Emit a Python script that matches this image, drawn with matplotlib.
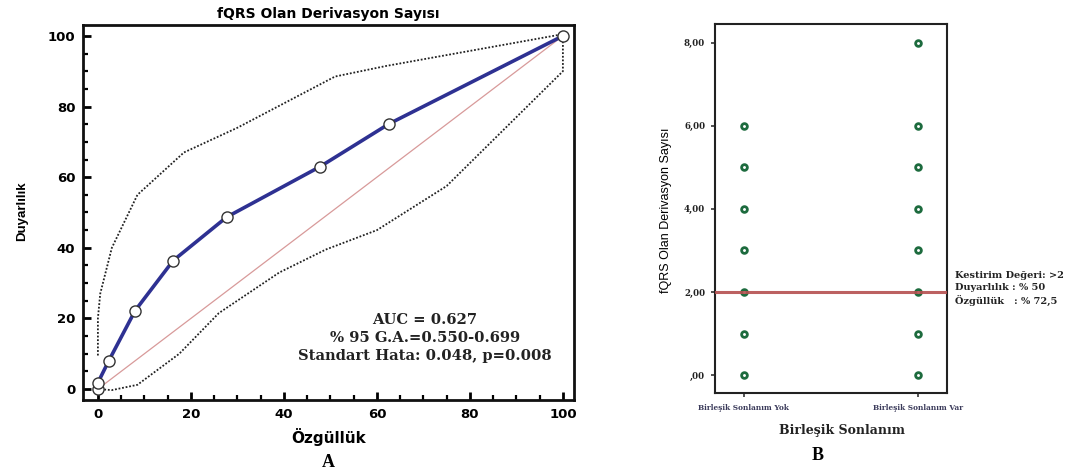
import matplotlib
matplotlib.use("Agg")
import matplotlib.pyplot as plt
from matplotlib.ticker import MultipleLocator, FixedLocator

# ROC egrisi (A paneli)
roc_x = [0, 0, 2.3, 8.0, 16.2, 27.7, 47.8, 62.6, 100]
roc_y = [0, 1.8, 7.9, 22.2, 36.4, 48.7, 63.0, 75.1, 100]

# %95 guven araligi sinirlari
ci_ust_x = [0, 0, 0.5, 3.0, 8.5, 18.5, 30.0, 51.0, 62.0, 100, 100]
ci_ust_y = [9.5, 20.0, 27.0, 40.0, 55.0, 67.0, 74.0, 88.5, 91.5, 100.5, 100]
ci_alt_x = [100, 100, 75.0, 60.0, 49.0, 39.0, 26.0, 17.5, 8.5, 3.0, 0]
ci_alt_y = [100, 90.0, 57.5, 45.0, 39.5, 33.0, 21.5, 10.0, 1.2, -0.3, 0]

auc_satirlari = ["AUC = 0.627", "% 95 G.A.=0.550-0.699",
                 "Standart Hata: 0.048, p=0.008"]

# B paneli: gruplara gore fQRS olan derivasyon sayilari
gruplar = ["Birleşik Sonlanım Yok", "Birleşik Sonlanım Var"]
yok_degerler = [0, 1, 2, 3, 4, 5, 6]
var_degerler = [0, 1, 2, 3, 4, 5, 6, 8]
kestirim = 2
y_etiketleri = [",00", "2,00", "4,00", "6,00", "8,00"]
kestirim_metni = ["Kestirim Değeri: >2", "Duyarlılık : % 50", "Özgüllük   : % 72,5"]

sans_b = "DejaVu Sans"
serif = "DejaVu Serif"

fig = plt.figure(figsize=(10.74, 4.75), dpi=100)

# ---------------- A ----------------
ax = fig.add_axes([0.0773, 0.1579, 0.4572, 0.7895])
ax.plot([0, 100], [0, 100], color="#d89a9a", lw=0.9, zorder=1)
ax.plot(ci_ust_x + ci_alt_x, ci_ust_y + ci_alt_y, color="#222222", lw=1.3,
        linestyle=(0, (1, 1)), zorder=2)
ax.plot(roc_x, roc_y, color="#2e3192", lw=2.6, zorder=3,
        marker="o", ms=8, mfc="white", mec="#333333", mew=1.0)

ax.set_xlim(-3.2, 102.4)
ax.set_ylim(-3.1, 103.1)
ax.xaxis.set_major_locator(MultipleLocator(20))
ax.yaxis.set_major_locator(MultipleLocator(20))
ax.xaxis.set_minor_locator(MultipleLocator(5))
ax.yaxis.set_minor_locator(MultipleLocator(5))
ax.tick_params(which="major", direction="in", length=6, width=2, pad=5.5,
               labelsize=9.5, top=False, right=False)
ax.tick_params(which="minor", direction="in", length=3.5, width=1.6,
               top=False, right=False)
for lab in ax.get_xticklabels() + ax.get_yticklabels():
    lab.set_fontfamily(sans_b)
    lab.set_fontweight("bold")
for sp in ax.spines.values():
    sp.set_linewidth(2)
    sp.set_color("#111111")

ax.set_xlabel("Özgüllük", fontfamily=sans_b, fontweight="bold", fontsize=11,
              labelpad=5)
ax.set_ylabel("Duyarlılık", fontfamily="Liberation Sans", fontweight="bold",
              fontsize=9.5)
ax.yaxis.set_label_coords(-0.112, 0.504)
ax.set_title("fQRS Olan Derivasyon Sayısı", fontfamily=sans_b,
             fontweight="bold", fontsize=10, pad=5)

for i, satir in enumerate(auc_satirlari):
    ax.text(70.3, 19.5 - i * 5.0, satir, ha="center", va="center",
            fontfamily=serif, fontweight="bold", fontsize=10.6, color="#222222")

fig.text(0.3054, 0.027, "A", ha="center", va="center", fontfamily="Liberation Serif",
         fontweight="bold", fontsize=13)

# ---------------- B ----------------
bx = fig.add_axes([0.6657, 0.1726, 0.2160, 0.7768])
bx.axhline(kestirim, color="#b55050", lw=2.2, alpha=0.9, zorder=3)
bx.scatter([0] * len(yok_degerler), yok_degerler, s=17, marker="o",
           facecolors="white", edgecolors="#1d6b3e", linewidths=2.0, zorder=2)
bx.scatter([1] * len(var_degerler), var_degerler, s=17, marker="o",
           facecolors="white", edgecolors="#1d6b3e", linewidths=2.0, zorder=2)

bx.set_xlim(-0.164, 1.168)
bx.set_ylim(-0.43, 8.45)
bx.set_xticks([0, 1])
bx.set_xticklabels(gruplar, fontfamily=serif, fontweight="bold", fontsize=5.3,
                   color="#3a3a5a")
bx.yaxis.set_major_locator(FixedLocator([0, 2, 4, 6, 8]))
bx.set_yticklabels(y_etiketleri, fontfamily=serif, fontweight="bold",
                   fontsize=6.2, color="#222222")
bx.tick_params(axis="both", direction="out", length=3, width=1.2,
               color="#333333")
bx.tick_params(axis="y", pad=4)
bx.tick_params(axis="x", pad=5)
for sp in bx.spines.values():
    sp.set_linewidth(1.5)
    sp.set_color("#222222")

bx.set_xlabel("Birleşik Sonlanım", fontfamily=serif, fontweight="bold",
              fontsize=9, color="#222222")
bx.xaxis.set_label_coords(0.547, -0.085)
bx.set_ylabel("fQRS Olan Derivasyon Sayısı", fontfamily="Liberation Sans",
              fontsize=9)
bx.yaxis.set_label_coords(-0.185, 0.496)

for i, satir in enumerate(kestirim_metni):
    fig.text(0.889, 1 - (276 + i * 12) / 475, satir, ha="left", va="center",
             fontfamily=serif, fontweight="bold", fontsize=7, color="#222222")

fig.text(0.7616, 0.04, "B", ha="center", va="center", fontfamily="Liberation Serif",
         fontweight="bold", fontsize=13)

fig.savefig("out.png", dpi=100)
